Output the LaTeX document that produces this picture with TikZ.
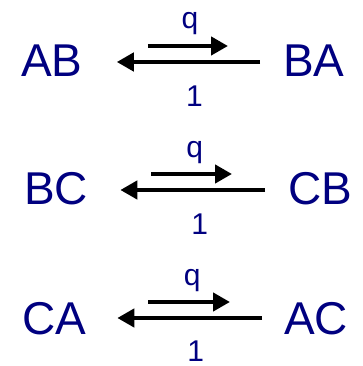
\documentclass[tikz,border=0pt]{standalone}
\usepackage{fontspec}
\setmainfont{Liberation Sans}
\usepackage{xcolor}
\usetikzlibrary{arrows.meta, positioning}
\definecolor{navy}{RGB}{0,0,128}

\begin{document}
\begin{tikzpicture}[
    species/.style={inner sep=0pt, anchor=base west, text=navy, font=\fontsize{46}{46}\selectfont},
    rate/.style={inner sep=0pt, anchor=base, text=navy, font=\fontsize{30}{30}\selectfont},
    arr/.style={-{Triangle[length=17pt, width=18pt]}, line width=4.5pt, black}
]
\useasboundingbox (0,0) rectangle (363pt,366pt);

% row 1
\node[species] (ab) at (21pt,289pt) {AB};
\node[species] (ba) at (283pt,289pt) {BA};
\draw[arr] ([xshift=65pt, yshift=31pt]ab.base east) -- ([xshift=-55pt, yshift=31pt]ba.base west)
    node[rate, midway, xshift=2pt, yshift=17pt] (q1) {q};
\draw[arr] ([xshift=-23pt, yshift=15pt]ba.base west) -- ([xshift=34pt, yshift=15pt]ab.base east)
    node[rate, midway, xshift=6pt, yshift=-45pt] (r1) {1};

% row 2
\node[species] (bc) at (24pt,161pt) {BC};
\node[species] (cb) at (288pt,161pt) {CB};
\draw[arr] ([xshift=63pt, yshift=31pt]bc.base east) -- ([xshift=-56pt, yshift=31pt]cb.base west)
    node[rate, midway, xshift=3pt, yshift=16pt] (q2) {q};
\draw[arr] ([xshift=-23pt, yshift=15pt]cb.base west) -- ([xshift=32pt, yshift=15pt]bc.base east)
    node[rate, midway, xshift=7pt, yshift=-45pt] (r2) {1};

% row 3
\node[species] (ca) at (22pt,31pt) {CA};
\node[species] (ac) at (284pt,31pt) {AC};
\draw[arr] ([xshift=62pt, yshift=33pt]ca.base east) -- ([xshift=-54pt, yshift=33pt]ac.base west)
    node[rate, midway, xshift=3pt, yshift=16pt] (q3) {q};
\draw[arr] ([xshift=-22pt, yshift=17pt]ac.base west) -- ([xshift=31pt, yshift=17pt]ca.base east)
    node[rate, midway, xshift=6pt, yshift=-43pt] (r3) {1};

\end{tikzpicture}
\end{document}
